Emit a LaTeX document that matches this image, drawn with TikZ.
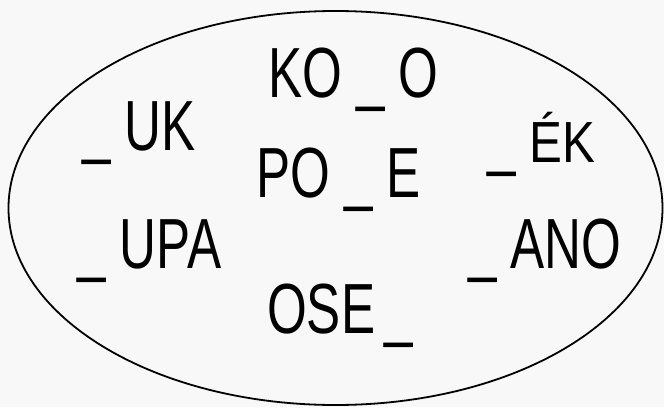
\documentclass[tikz,border=0pt]{standalone}
\usepackage{fontspec}
\setmainfont{Liberation Sans}
\newfontfamily\wordfont[FakeStretch=0.72]{Liberation Sans}
\newfontfamily\accfont[FakeStretch=0.85]{Liberation Sans}
\definecolor{paper}{RGB}{248,248,248}
\tikzset{word/.style={anchor=base west, inner sep=0pt,
    font=\wordfont\fontsize{71}{71}\selectfont},
    }

\begin{document}
\begin{tikzpicture}[x=1pt, y=-1pt]
	\fill[paper] (0,0) rectangle (664,407);
	\useasboundingbox (0,0) rectangle (664,407);
	\draw[line width=1.8pt] (335.5,208) ellipse (327 and 197);
	% middle column
	\node[word] (koo) at (268,97) {KO \_ O};
	\node[word] (poe) at (256,197) {PO \_ E};
	\node[word] (ose) at (267,333) {OSE \kern-5pt\_};
	% left column
	\node[word] (uk) at (82,150) {\_ UK};
	\node[word] (upa) at (77,268) {\_ UPA};
	% right column
	\node[word] (ek) at (487,162) {\_ {\accfont\fontsize{58}{58}\selectfont ÉK}};
	\node[word] (ano) at (468,268) {\_ ANO};
\end{tikzpicture}
\end{document}
